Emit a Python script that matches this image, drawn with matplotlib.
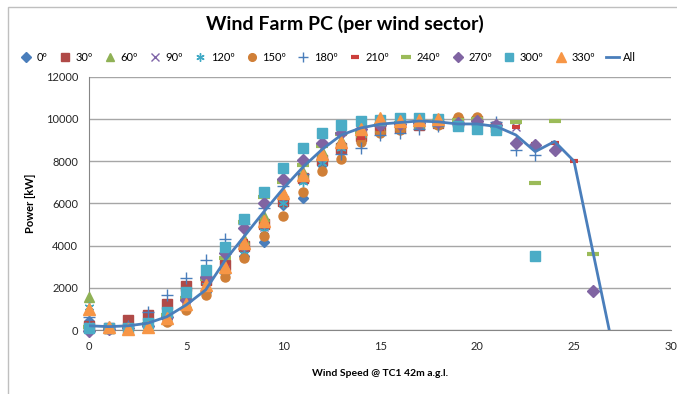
import numpy as np
import matplotlib

matplotlib.use("Agg")
import matplotlib.pyplot as plt
from matplotlib.patches import Rectangle

nan = np.nan

# wind speed bins [m/s]
speeds = list(range(27))

# power per wind sector [kW]
p_000 = [440, 100, 150, 250, 500, 1000, 1800, 2700, 3500, 4170, 5900, 6250, 7800, 8500, 9000, 9400, 9500, 9700, 9800, 9850, 9800, nan, nan, nan, nan, nan, nan]
p_030 = [200, 100, 470, 710, 1230, 2090, 2370, 3100, 4000, 5000, 6100, 7200, 8060, 8600, 9200, 9500, 9600, 9700, 9800, 9850, 9900, 9600, nan, nan, nan, nan, nan]
p_060 = [1580, 100, 150, 200, 500, 1300, 2100, 3000, 4300, 5400, 6500, 7500, 8500, 9000, 9400, 9600, 9700, 9800, 9850, 9900, 9950, 9600, nan, nan, nan, nan, nan]
p_090 = [200, 80, 120, 250, 600, 1400, 2200, 2900, 3700, 4900, 6100, 7100, 8000, 8700, 9300, 9500, 9800, 9700, 9800, 9850, 9850, 9700, 9600, nan, nan, nan, nan]
p_120 = [1100, 100, 150, 300, 700, 1500, 2300, 2800, 3600, 4700, 6000, 7000, 7900, 8600, 9100, 9400, 9600, 9700, 9800, 9900, 9900, nan, nan, nan, nan, nan, nan]
p_150 = [100, 50, 100, 150, 390, 950, 1660, 2500, 3400, 4450, 5400, 6540, 7540, 8110, 8910, 9330, 9480, 9800, 9720, 10100, 10100, nan, nan, nan, nan, nan, nan]
p_180 = [600, 150, 200, 850, 1660, 2460, 3320, 4300, 5000, 5800, 6800, 7400, 8100, 8340, 8630, 9240, 9330, 9520, 9670, 9700, 9750, 9860, 8530, 8290, nan, nan, nan]
p_210 = [100, 100, 150, 300, 700, 1500, 2300, 3100, 4200, 5000, 6400, 7100, 8100, 8700, 9100, 9500, 9700, 9750, 9800, 9920, 9950, 9700, 9620, 8800, 8860, 8000, nan]
p_240 = [150, 100, 150, 300, 700, 1500, 2400, 3400, 5100, 6300, 7000, 7800, 8700, 9300, 9400, 9700, 9800, 9850, 9900, 9950, 10000, 9650, 9860, 6980, 9880, nan, 3600]
p_270 = [-50, 50, 100, 200, 600, 1400, 2500, 3650, 4830, 6010, 7150, 8060, 8870, 9330, 9520, 9700, 9750, 9800, 9850, 9800, 9880, 9700, 8860, 8740, 8530, nan, 1860]
p_300 = [90, 90, 90, 330, 870, 1820, 2840, 3950, 5260, 6540, 7680, 8630, 9330, 9700, 9880, 9950, 10060, 10060, 10000, 9640, 9520, 9480, nan, 3520, nan, nan, nan]
p_330 = [990, 160, 50, 160, 570, 1230, 2130, 3000, 4100, 5180, 6490, 7350, 8340, 8910, 9500, 10050, 9900, 9950, 10000, nan, nan, nan, nan, nan, nan, nan, nan]

# all sectors together
speeds_all = list(range(28))
p_all = [200, 160, 200, 320, 630, 1190, 1900, 3300, 4450, 5600, 6700, 7700, 8550, 9240, 9570, 9750, 9830, 9900, 9860, 9760, 9760, 9640, 9240, 8450, 8930, 8000, 3600, -800]

sector_labels = ["0º", "30º", "60º", "90º", "120º", "150º", "180º", "210º", "240º", "270º", "300º", "330º"]
sector_values = [p_000, p_030, p_060, p_090, p_120, p_150, p_180, p_210, p_240, p_270, p_300, p_330]

# excel-like marker styles per sector
STYLES = [
    dict(marker="D", color="#4A7EBB", ms=5.5),
    dict(marker="s", color="#B04A47", ms=6.5),
    dict(marker="^", color="#8FB155", ms=7),
    dict(marker="x", color="#7F65A8", ms=6, mew=1.0),
    dict(marker=(6, 2, 0), color="#3FA9C5", ms=7, mew=1.0),
    dict(marker="o", color="#D07F37", ms=6.5),
    dict(marker="+", color="#4A7EBB", ms=8, mew=1.0),
    dict(marker="_", color="#CC3F3B", ms=6, mew=3),
    dict(marker="_", color="#9BBB59", ms=9, mew=3),
    dict(marker="D", color="#8064A2", ms=6),
    dict(marker="s", color="#4BACC6", ms=7.5),
    dict(marker="^", color="#F79646", ms=8),
]

FONT = "Lato"


def main():
    plt.rcParams["font.family"] = [FONT, "DejaVu Sans"]
    fig = plt.figure(figsize=(6.77, 3.94), dpi=100)
    ax = fig.add_axes([0.132, 0.1624, 0.859, 0.6430])

    # chart frame
    fig.patches.append(Rectangle((0.012, -0.05), 1.2, 1.032, transform=fig.transFigure,
                                 fill=False, edgecolor="#BFBFBF", linewidth=1.0))

    handles = []
    for label, vals, st in zip(sector_labels, sector_values, STYLES):
        st = dict(st)
        color = st.pop("color")
        h, = ax.plot(speeds, vals, linestyle="none", color=color, mfc=color, mec=color,
                     clip_on=False, label=label, zorder=3, **st)
        handles.append(h)

    h_all, = ax.plot(speeds_all, p_all, color="#4A7EBB", linewidth=2.0, label="All", zorder=4)
    handles.append(h_all)

    ax.set_xlim(0, 30)
    ax.set_ylim(0, 12000)
    ax.set_xticks(range(0, 31, 5))
    ax.set_yticks(range(0, 12001, 2000))
    ax.yaxis.grid(True, color="#A6A6A6", linewidth=1.0)
    ax.set_axisbelow(True)
    for side in ("top", "right"):
        ax.spines[side].set_visible(False)
    for side in ("left", "bottom"):
        ax.spines[side].set_color("#868686")
    ax.tick_params(axis="both", length=0, labelsize=8, colors="#262626", pad=8)

    ax.set_xlabel("Wind Speed @ TC1 42m a.g.l.", fontsize=7.5, fontweight="bold", labelpad=12)
    ax.set_ylabel("Power [kW]", fontsize=8, fontweight="bold", labelpad=7)

    fig.text(0.51, 0.938, "Wind Farm PC (per wind sector)", ha="center", va="center",
             fontsize=14, fontweight="bold")

    fig.legend(handles=handles, loc="center left", bbox_to_anchor=(0.022, 0.855), ncol=13,
               frameon=False, fontsize=8, handlelength=1.2, handletextpad=0.35,
               columnspacing=0.95, borderaxespad=0, markerscale=0.85)

    fig.savefig("out.png", dpi=100)
    plt.close(fig)


if __name__ == "__main__":
    main()
